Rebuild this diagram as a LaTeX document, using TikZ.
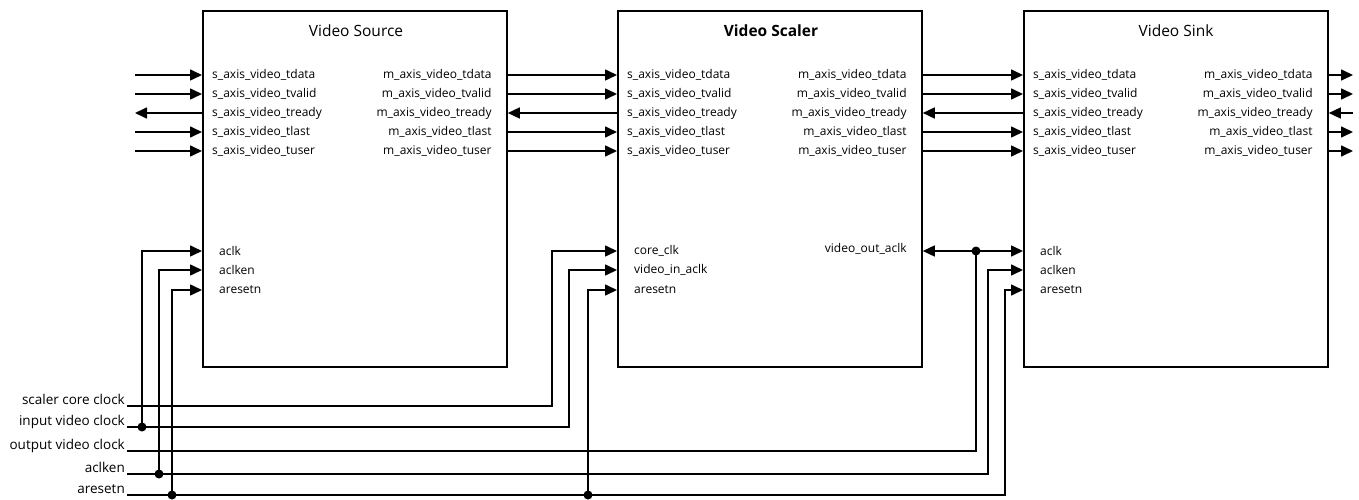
\documentclass[tikz,border=0pt]{standalone}
\usepackage{fontspec}
\setmainfont{Open Sans}
\usetikzlibrary{arrows.meta}
\begin{document}
\begin{tikzpicture}[x=1pt,y=-1pt,
  box/.style={draw, line width=1.8pt, minimum width=304pt, minimum height=356pt,
              anchor=north west, inner sep=0pt},
  wire/.style={line width=1.6pt},
  tip/.tip={Triangle[length=12pt,width=11pt]},
  sig/.style={wire, -tip},
  bisig/.style={wire, tip-tip},
  portfont/.style={font=\fontsize{12}{14}\selectfont},
  inport/.style={portfont, anchor=west, inner sep=0pt},
  outport/.style={portfont, anchor=east, inner sep=0pt},
  title/.style={font=\fontsize{15.5}{18}\selectfont},
  extlabel/.style={anchor=base east, inner sep=0pt, font=\fontsize{13.5}{16}\selectfont},
  joint/.style={circle, fill, inner sep=0pt, minimum size=9pt}
]
\useasboundingbox (0,0) rectangle (1359,500);

% the three blocks
\node[box] (src) at (202,10) {};
\node[box] (scl) at (617,10) {};
\node[box] (snk) at (1023,10) {};

\node[title] (src-title) at (356,31) {Video Source};
\node[title, font=\fontsize{15.5}{18}\selectfont\bfseries] (scl-title) at (771,31) {Video Scaler};
\node[title] (snk-title) at (1176,31) {Video Sink};

% AXI4-Stream ports on every block
\foreach \b in {src,scl,snk}{
  \foreach \n/\s/\y in {1/tdata/75,2/tvalid/94,3/tready/113,4/tlast/132,5/tuser/151}{
    \coordinate (\b-si\n) at (\b.west |- 0,\y);
    \coordinate (\b-mo\n) at (\b.east |- 0,\y);
    \node[inport] (\b-sl\n) at ([xshift=10pt]\b-si\n) {s\_axis\_video\_\s};
    \node[outport] (\b-ml\n) at ([xshift=-16pt]\b-mo\n) {m\_axis\_video\_\s};
  }
  \foreach \n/\y in {1/251,2/270,3/290}
    \coordinate (\b-c\n) at (\b.west |- 0,\y);
}

% clock / enable / reset ports
\node[inport] (src-p1) at ([xshift=17pt]src-c1) {aclk};
\node[inport] (src-p2) at ([xshift=17pt]src-c2) {aclken};
\node[inport] (src-p3) at ([xshift=17pt]src-c3) {aresetn};
\node[inport] (scl-p1) at ([xshift=17pt]scl-c1) {core\_clk};
\node[inport] (scl-p2) at ([xshift=17pt]scl-c2) {video\_in\_aclk};
\node[inport] (scl-p3) at ([xshift=17pt]scl-c3) {aresetn};
\node[inport] (snk-p1) at ([xshift=17pt]snk-c1) {aclk};
\node[inport] (snk-p2) at ([xshift=17pt]snk-c2) {aclken};
\node[inport] (snk-p3) at ([xshift=17pt]snk-c3) {aresetn};
\coordinate (scl-vo) at (scl.east |- 0,251);
\node[outport] (scl-vol) at ([xshift=-16pt,yshift=2pt]scl-vo) {video\_out\_aclk};

% stream connections
\foreach \n/\y in {1/75,2/94,3/113,4/132,5/151}{
  \coordinate (in\n) at (135,\y);
  \coordinate (out\n) at (1353,\y);
}
\foreach \n in {1,2,4,5}{
  \draw[sig] (in\n) -- (src-si\n);
  \draw[sig] (src-mo\n) -- (scl-si\n);
  \draw[sig] (scl-mo\n) -- (snk-si\n);
  \draw[sig] (snk-mo\n) -- (out\n);
}
\draw[sig] (src-si3) -- (in3);
\draw[sig] (scl-si3) -- (src-mo3);
\draw[sig] (snk-si3) -- (scl-mo3);
\draw[sig] (out3) -- (snk-mo3);

% external clock, enable and reset nets
\coordinate (l-core) at (127,406);
\coordinate (l-in)   at (127,427);
\coordinate (l-out)  at (127,451);
\coordinate (l-en)   at (127,474);
\coordinate (l-rst)  at (127,495);
\node[extlabel] (t-core) at (125,404) {scaler core clock};
\node[extlabel] (t-in)   at (125,425) {input video clock};
\node[extlabel] (t-out)  at (125,449) {output video clock};
\node[extlabel] (t-en)   at (125,472) {aclken};
\node[extlabel] (t-rst)  at (125,493) {aresetn};

\coordinate (k-core) at (552,406);
\coordinate (k-in)   at (569,427);
\coordinate (k-out)  at (976,451);
\coordinate (k-en)   at (988,474);
\coordinate (k-rst)  at (1005,495);

\node[joint] (j-in)   at (142,427) {};
\node[joint] (j-en)   at (159,474) {};
\node[joint] (j-rst1) at (172,495) {};
\node[joint] (j-rst2) at (588,495) {};
\node[joint] (j-out)  at (976,251) {};

\draw[sig] (l-core) -- (k-core) |- (scl-c1);
\draw[sig] (l-in) -- (k-in) |- (scl-c2);
\draw[wire] (l-out) -- (k-out) -- (j-out.center);
\draw[sig] (l-en) -- (k-en) |- (snk-c2);
\draw[sig] (l-rst) -- (k-rst) |- (snk-c3);

\draw[sig] (j-in.center) |- (src-c1);
\draw[sig] (j-en.center) |- (src-c2);
\draw[sig] (j-rst1.center) |- (src-c3);
\draw[sig] (j-rst2.center) |- (scl-c3);
\draw[bisig] (scl-vo) -- (snk-c1);
\end{tikzpicture}
\end{document}
